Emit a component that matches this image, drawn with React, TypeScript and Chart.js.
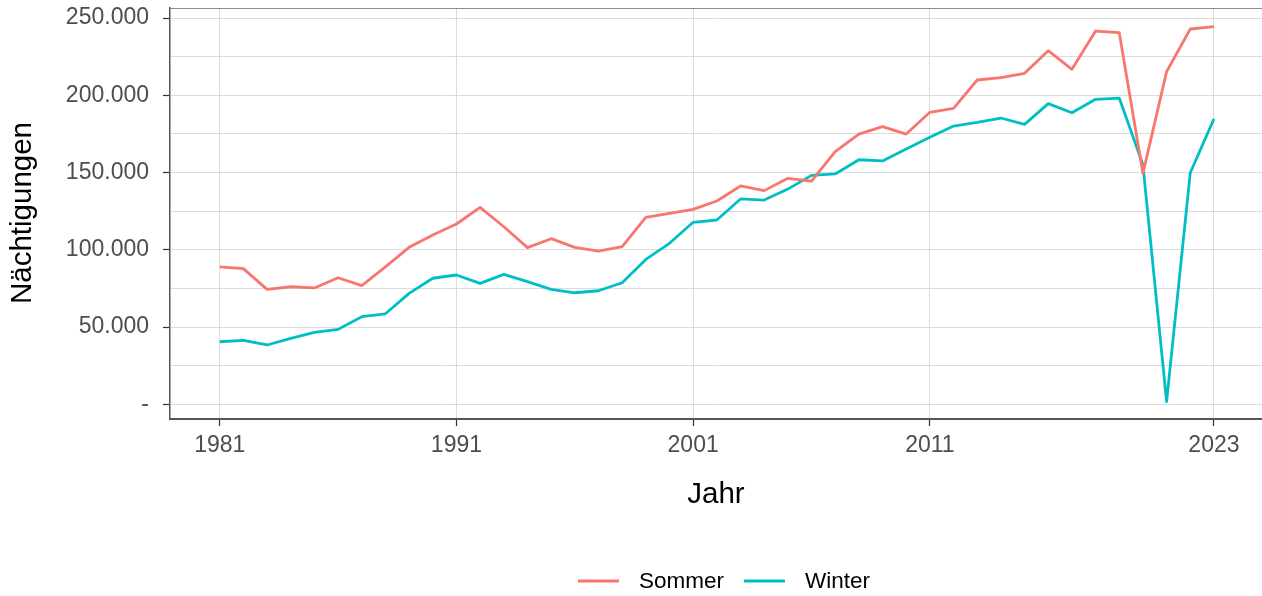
import React, { useEffect, useRef } from 'react';
import { Chart, registerables } from 'chart.js';

Chart.register(...registerables);

const years = [
  1981, 1982, 1983, 1984, 1985, 1986, 1987, 1988, 1989, 1990,
  1991, 1992, 1993, 1994, 1995, 1996, 1997, 1998, 1999, 2000,
  2001, 2002, 2003, 2004, 2005, 2006, 2007, 2008, 2009, 2010,
  2011, 2012, 2013, 2014, 2015, 2016, 2017, 2018, 2019, 2020,
  2021, 2022, 2023,
];

const sommer = [
  89000, 87800, 74400, 76100, 75300, 81900, 76800, 89000, 101600, 109600,
  116700, 127500, 114900, 101400, 107200, 101600, 99200, 102000, 121000, 123600,
  126200, 131600, 141300, 138300, 146300, 144500, 163500, 174900, 179700, 174900,
  189000, 191600, 209900, 211400, 214200, 228900, 216800, 241600, 240500, 149500,
  215300, 242900, 244400,
];

const winter = [
  40500, 41400, 38400, 42700, 46600, 48500, 56700, 58600, 71800, 81600,
  83700, 78300, 84100, 79400, 74400, 72200, 73500, 78700, 93800, 104200,
  117800, 119300, 132900, 132200, 139300, 148200, 149100, 158300, 157500, 165200,
  172800, 180100, 182500, 185300, 181200, 194600, 188700, 197400, 198200, 155000,
  1700, 149900, 184700,
];

const seriesNames = ['Sommer', 'Winter'];
const seriesColors = ['#F8766D', '#00BFC4'];

const xTickValues = [1981, 1991, 2001, 2011, 2023];
const yTickValues = [0, 25000, 50000, 75000, 100000, 125000, 150000, 175000, 200000, 225000, 250000];

const xTitle = 'Jahr';
const yTitle = 'Nächtigungen';

const FONT = "'Liberation Sans', Arial, sans-serif";

function fmt(v: number): string {
  if (v === 0) return '-';
  return String(v).replace(/\B(?=(\d{3})+(?!\d))/g, '.');
}

const decorPlugin = {
  id: 'decor',
  afterDraw(chart: any) {
    const { ctx, chartArea } = chart;
    ctx.save();
    // top panel border
    ctx.strokeStyle = '#8c8c8c';
    ctx.lineWidth = 1;
    ctx.beginPath();
    ctx.moveTo(chartArea.left, chartArea.top + 0.5);
    ctx.lineTo(chartArea.right, chartArea.top + 0.5);
    ctx.stroke();

    // axis titles
    ctx.fillStyle = '#000000';
    ctx.font = `29.5px ${FONT}`;
    ctx.textAlign = 'center';
    ctx.textBaseline = 'middle';
    ctx.fillText(xTitle, (chartArea.left + chartArea.right) / 2, 495);
    ctx.save();
    ctx.translate(23, 213);
    ctx.rotate(-Math.PI / 2);
    ctx.fillText(yTitle, 0, 0);
    ctx.restore();

    // legend
    ctx.font = `22.5px ${FONT}`;
    ctx.textAlign = 'left';
    ctx.textBaseline = 'middle';
    const ly = 581;
    let lx = 578;
    chart.data.datasets.forEach((ds: any) => {
      ctx.strokeStyle = ds.borderColor;
      ctx.lineWidth = 3;
      ctx.beginPath();
      ctx.moveTo(lx, ly);
      ctx.lineTo(lx + 41, ly);
      ctx.stroke();
      ctx.fillStyle = '#000000';
      ctx.fillText(ds.label, lx + 61, ly + 1);
      lx += 61 + ctx.measureText(ds.label).width + 20;
    });
    ctx.restore();
  },
};

export default function App() {
  const ref = useRef<HTMLCanvasElement | null>(null);

  useEffect(() => {
    if (!ref.current) return;
    const datasets = [sommer, winter].map((arr, k) => ({
      label: seriesNames[k],
      data: years.map((yr, i) => ({ x: yr, y: arr[i] })),
      borderColor: seriesColors[k],
      backgroundColor: seriesColors[k],
      borderWidth: 2.8,
      borderJoinStyle: 'round' as const,
      borderCapStyle: 'butt' as const,
      pointRadius: 0,
      pointHoverRadius: 0,
      tension: 0,
      fill: false,
    }));

    const chart = new Chart(ref.current, {
      type: 'line',
      data: { datasets },
      plugins: [decorPlugin],
      options: {
        animation: false,
        responsive: false,
        devicePixelRatio: 1,
        layout: { padding: { top: 8, left: 0, right: 0, bottom: 0 } },
        plugins: {
          legend: { display: false },
          tooltip: { enabled: false },
          title: { display: false },
        },
        scales: {
          x: {
            type: 'linear',
            min: 1978.9,
            max: 2025.03,
            afterBuildTicks: (s: any) => {
              s.ticks = xTickValues.map((v) => ({ value: v }));
            },
            afterFit: (s: any) => {
              s.height = 177;
              s.paddingLeft = 0;
              s.paddingRight = 0;
            },
            ticks: {
              autoSkip: false,
              maxRotation: 0,
              minRotation: 0,
              padding: 6,
              color: '#4d4d4d',
              font: { family: FONT, size: 23 },
              callback: (v: any) => String(v),
            },
            grid: {
              color: '#dcdcdc',
              lineWidth: 1,
              drawTicks: true,
              tickLength: 7,
              tickColor: '#333333',
              tickWidth: 1.2,
            },
            border: { display: true, color: '#555555', width: 2 },
          },
          y: {
            type: 'linear',
            min: -9500,
            max: 256500,
            afterBuildTicks: (s: any) => {
              s.ticks = yTickValues.map((v) => ({ value: v }));
            },
            afterFit: (s: any) => {
              s.width = 170;
              s.paddingTop = 0;
              s.paddingBottom = 0;
            },
            ticks: {
              autoSkip: false,
              padding: 14,
              color: '#4d4d4d',
              font: { family: FONT, size: 23 },
              callback: (v: any) => (v % 50000 === 0 ? fmt(v) : ''),
            },
            grid: {
              color: '#dcdcdc',
              lineWidth: 1,
              drawTicks: true,
              tickLength: 7,
              tickWidth: 1.2,
              tickColor: (c: any) =>
                c.tick && c.tick.value % 50000 === 0 ? '#333333' : 'rgba(0,0,0,0)',
            },
            border: { display: true, color: '#555555', width: 1.5 },
          },
        },
      },
    });

    return () => chart.destroy();
  }, []);

  return (
    <div style={{ position: 'absolute', left: 0, top: 0, width: 1262, height: 596, background: '#ffffff' }}>
      <canvas ref={ref} width={1262} height={596} style={{ display: 'block' }} />
    </div>
  );
}
